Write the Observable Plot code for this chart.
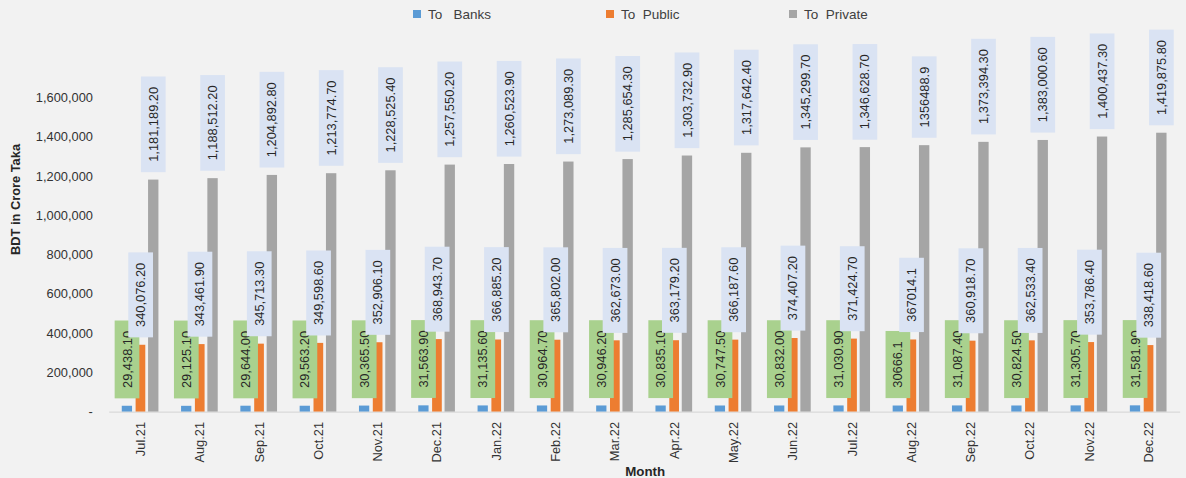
<!DOCTYPE html>
<html>
<head>
<meta charset="utf-8">
<script src="https://cdn.jsdelivr.net/npm/d3@7"></script>
<script src="https://cdn.jsdelivr.net/npm/@observablehq/plot@0.6"></script>
<style>
  html, body { margin: 0; padding: 0; background: #F2F2F2; overflow: hidden; width: 1186px; height: 478px; }
  #wrap { position: relative; width: 1186px; height: 478px; }
  #legend { position: absolute; top: 0; left: 0; width: 1186px; height: 30px; font-family: "Liberation Sans", Arial, sans-serif; font-size: 13.5px; color: #404040; z-index: 2; }
  .item { position: absolute; top: 7px; white-space: pre; line-height: 16px; }
  .sw { display: inline-block; width: 8px; height: 8px; margin-right: 7px; vertical-align: 1px; }
  #chart { position: absolute; top: 0; left: 0; }
</style>
</head>
<body>
<div id="wrap">
  <div id="legend"></div>
  <div id="chart"></div>
</div>
<script>
// ---- data ----
const months = ["Jul.21","Aug.21","Sep.21","Oct.21","Nov.21","Dec.21","Jan.22","Feb.22","Mar.22","Apr.22","May.22","Jun.22","Jul.22","Aug.22","Sep.22","Oct.22","Nov.22","Dec.22"];
const toBanks = [29438.10, 29125.10, 29644.00, 29563.20, 30365.50, 31563.90, 31135.60, 30964.70, 30946.20, 30835.10, 30747.50, 30832.00, 31030.90, 30666.1, 31087.40, 30824.50, 31305.70, 31581.90];
const toPublic = [340076.20, 343461.90, 345713.30, 349598.60, 352906.10, 368943.70, 366885.20, 365802.00, 362673.00, 363179.20, 366187.60, 374407.20, 371424.70, 367014.1, 360918.70, 362533.40, 353786.40, 338418.60];
const toPrivate = [1181189.20, 1188512.20, 1204892.80, 1213774.70, 1228525.40, 1257550.20, 1260523.90, 1273089.30, 1285654.30, 1303732.90, 1317642.40, 1345299.70, 1346628.70, 1356488.9, 1373394.30, 1383000.60, 1400437.30, 1419875.80];
const seriesNames = ["To   Banks", "To  Public", "To  Private"];
const seriesColors = ["#5B9BD5", "#ED7D31", "#A5A5A5"];
const labelBoxColors = ["#A9D18E", "#DAE3F3", "#DAE3F3"];
const yTicks = [0, 200000, 400000, 600000, 800000, 1000000, 1200000, 1400000, 1600000];
const plainLabelMonths = ["Aug.22"]; // labels shown without number formatting
const yLabel = "BDT in Crore Taka";
const xLabel = "Month";

// ---- legend ----
const legendLeft = [413, 606, 789];
const legend = document.getElementById("legend");
seriesNames.forEach((n, i) => {
  const it = document.createElement("div");
  it.className = "item";
  it.style.left = legendLeft[i] + "px";
  it.innerHTML = `<span class="sw" style="background:${seriesColors[i]}"></span>${n}`;
  legend.appendChild(it);
});

// ---- rows ----
const rows = arr => months.map((m, i) => ({month: m, value: arr[i]}));
const bankRows = rows(toBanks), publicRows = rows(toPublic), privateRows = rows(toPrivate);
const fmt2 = d3.format(",.2f");
const labelText = d => plainLabelMonths.includes(d.month) ? String(d.value) : fmt2(d.value);

const labelOpts = (dx) => ({
  x: "month", y: "value", text: labelText, rotate: -90, textAnchor: "start",
  dx, dy: -18.5, fill: "#262626", fontSize: 13
});

const chart = Plot.plot({
  width: 1200, height: 478,
  marginLeft: 110.5, marginRight: 5.9, marginTop: 98.5, marginBottom: 61.6,
  style: {background: "transparent", fontFamily: "Liberation Sans, Arial, sans-serif", fontSize: "13px", color: "#333333", overflow: "visible"},
  x: {domain: months, padding: 0, axis: null},
  y: {domain: [0, 1600000], axis: null},
  marks: [
    Plot.axisY({ticks: yTicks, tickSize: 0, tickPadding: 17, tickFormat: d => d === 0 ? "-" : d3.format(",")(d), label: null, fontSize: 13}),
    Plot.axisX({tickRotate: -90, tickSize: 0, tickPadding: 10, label: null, fontSize: 13}),
    Plot.ruleY([0], {stroke: "#D9D9D9", strokeWidth: 1.2}),
    Plot.barY(bankRows, {x: "month", y: "value", fill: seriesColors[0], insetLeft: 11.2, insetRight: 38.4}),
    Plot.barY(publicRows, {x: "month", y: "value", fill: seriesColors[1], insetLeft: 25.2, insetRight: 25.0}),
    Plot.barY(privateRows, {x: "month", y: "value", fill: seriesColors[2], insetLeft: 37.8, insetRight: 11.7}),
    Plot.text(bankRows, labelOpts(-13.6)),
    Plot.text(publicRows, labelOpts(0.2)),
    Plot.text(privateRows, labelOpts(13)),
    Plot.text([yLabel], {frameAnchor: "left", rotate: -90, dx: -95, fontWeight: "bold", fontSize: 13, fill: "#262626"}),
    Plot.text([xLabel], {frameAnchor: "bottom", dy: 65, dx: 0, fontWeight: "bold", fontSize: 13.5, fill: "#262626"})
  ]
});
document.getElementById("chart").appendChild(chart);

// label background boxes, sized from each rendered label text
const labelSets = [bankRows, publicRows, privateRows].map(r => new Set(r.map(labelText)));
chart.querySelectorAll("text").forEach(t => {
  const s = t.textContent;
  const k = labelSets.findIndex(set => set.has(s));
  if (k < 0) return;
  const b = t.getBBox();
  const r = document.createElementNS("http://www.w3.org/2000/svg", "rect");
  r.setAttribute("x", b.x - 10.5);
  r.setAttribute("y", b.y + b.height / 2 - 12.5);
  r.setAttribute("width", b.width + 21);
  r.setAttribute("height", 25);
  r.setAttribute("fill", labelBoxColors[k]);
  const tr = t.getAttribute("transform");
  if (tr) r.setAttribute("transform", tr);
  t.parentNode.insertBefore(r, t);
});
</script>
</body>
</html>
